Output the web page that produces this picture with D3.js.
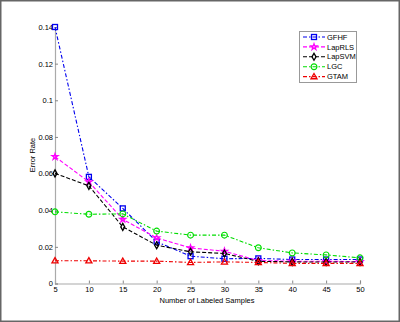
<!DOCTYPE html>
<html>
<head>
<meta charset="utf-8">
<script src="https://cdn.jsdelivr.net/npm/d3@7"></script>
<style>
  body { margin: 0; background: #fff; }
  text { font-family: "Liberation Sans", Arial, sans-serif; fill: #000; }
</style>
</head>
<body>
<div id="chart"></div>
<script>
// data
var samples = [5, 10, 15, 20, 25, 30, 35, 40, 45, 50];
var yTicks = [0, 0.02, 0.04, 0.06, 0.08, 0.1, 0.12, 0.14];
var gfhf    = [0.140, 0.0582, 0.0410, 0.0228, 0.0149, 0.0135, 0.0137, 0.0131, 0.0131, 0.0131];
var laprls  = [0.0692, 0.0555, 0.0350, 0.0249, 0.0194, 0.0176, 0.0125, 0.0122, 0.0121, 0.0120];
var lapsvm  = [0.0601, 0.0533, 0.0309, 0.0209, 0.0173, 0.0164, 0.0121, 0.0118, 0.0117, 0.0117];
var lgc     = [0.0391, 0.0378, 0.0380, 0.0286, 0.0264, 0.0264, 0.0195, 0.0167, 0.0156, 0.0140];
var gtam    = [0.0124, 0.0124, 0.0122, 0.0122, 0.0115, 0.0118, 0.0115, 0.0110, 0.0110, 0.0110];

var seriesNames = ["GFHF", "LapRLS", "LapSVM", "LGC", "GTAM"];
var seriesVals = [gfhf, laprls, lapsvm, lgc, gtam];
var colors = ["#0000ee", "#ff00ff", "#000000", "#00dd00", "#ee0000"];
var dashes = ["4,2,1.5,2", "4,2", "4,2", "4,2,1.5,2", "4,2,1.5,2"];
var markers = ["square", "star", "diamond", "circle", "triangle"];

var svgWidth = 400, svgHeight = 322;
var margin = { top: 27, right: 40, bottom: 38.5, left: 55 };
var width = 360 - margin.left;
var height = 283.5 - margin.top;

var svg = d3.select("#chart").append("svg")
  .attr("width", svgWidth)
  .attr("height", svgHeight);

// outer frame
svg.append("rect")
  .attr("x", 0.75).attr("y", 0.75)
  .attr("width", svgWidth - 1.5).attr("height", svgHeight - 1.5)
  .attr("fill", "none").attr("stroke", "#666").attr("stroke-width", 1.5);

var chartGroup = svg.append("g")
  .attr("transform", `translate(${margin.left}, ${margin.top})`);

var x = d3.scaleLinear().domain([5, 50]).range([0, width]);
var y = d3.scaleLinear().domain([0, 0.14]).range([height, 0]);

var xAxis = d3.axisBottom(x).tickValues(samples).tickSize(-3).tickPadding(3);
var yAxis = d3.axisLeft(y).tickValues(yTicks).tickSize(-3).tickPadding(2)
  .tickFormat(d => d === 0 ? "0" : String(+d.toFixed(2)));

var gx = chartGroup.append("g")
  .attr("transform", `translate(0, ${height})`)
  .call(xAxis);
var gy = chartGroup.append("g").call(yAxis);

[gx, gy].forEach(g => {
  g.select(".domain").attr("stroke", "#aaa").attr("stroke-width", 1.2);
  g.selectAll(".tick line").attr("stroke", "#888");
  g.selectAll(".tick text").attr("font-size", "7.5px").attr("fill", "#000")
    .attr("font-family", "'Liberation Sans', Arial, sans-serif");
});
gx.selectAll(".tick text").attr("y", 2).attr("dy", "0.9em");

// axis titles
svg.append("text")
  .attr("x", 207).attr("y", 303)
  .attr("text-anchor", "middle")
  .attr("font-size", "7.5px")
  .text("Number of Labeled Samples");

svg.append("text")
  .attr("transform", "rotate(-90)")
  .attr("x", -155).attr("y", 35)
  .attr("text-anchor", "middle")
  .attr("font-size", "7.5px")
  .text("Error Rate");

// marker drawing
function drawMarker(g, type, color) {
  if (type === "square") {
    g.append("rect").attr("x", -2.5).attr("y", -2.5).attr("width", 5).attr("height", 5)
      .attr("fill", "none").attr("stroke", color).attr("stroke-width", 1.3);
  } else if (type === "circle") {
    g.append("circle").attr("r", 2.9)
      .attr("fill", "none").attr("stroke", color).attr("stroke-width", 1.2);
  } else {
    var sym = type === "star" ? d3.symbolStar : type === "diamond" ? d3.symbolDiamond : d3.symbolTriangle;
    var size = type === "star" ? 11 : type === "diamond" ? 14 : 16;
    g.append("path").attr("d", d3.symbol().type(sym).size(size)())
      .attr("transform", type === "triangle" ? "translate(0,0.4)" : null)
      .attr("fill", "none").attr("stroke", color).attr("stroke-width", 1.3);
  }
}

var line = d3.line()
  .x((d, i) => x(samples[i]))
  .y(d => y(d));

seriesVals.forEach((vals, k) => {
  chartGroup.append("path")
    .datum(vals)
    .attr("d", line)
    .attr("fill", "none")
    .attr("stroke", colors[k])
    .attr("stroke-width", 1.1)
    .attr("stroke-dasharray", dashes[k]);
  chartGroup.selectAll(".m" + k)
    .data(vals)
    .enter()
    .append("g")
    .attr("class", "m" + k)
    .attr("transform", (d, i) => `translate(${x(samples[i])}, ${y(d)})`)
    .each(function () { drawMarker(d3.select(this), markers[k], colors[k]); });
});

// legend
var legend = svg.append("g").attr("transform", "translate(299, 31)");
legend.append("rect")
  .attr("x", 0.5).attr("y", 0.5).attr("width", 57).attr("height", 51)
  .attr("fill", "#fff").attr("stroke", "#999");
seriesNames.forEach((name, k) => {
  var ly = 6 + k * 9.9;
  legend.append("line")
    .attr("x1", 4).attr("x2", 26).attr("y1", ly).attr("y2", ly)
    .attr("stroke", colors[k]).attr("stroke-width", 1.1)
    .attr("stroke-dasharray", dashes[k]);
  drawMarker(legend.append("g").attr("transform", `translate(15, ${ly})`), markers[k], colors[k]);
  legend.append("text")
    .attr("x", 28).attr("y", ly).attr("dy", "0.35em")
    .attr("font-size", "7.5px")
    .text(name);
});
</script>
</body>
</html>
